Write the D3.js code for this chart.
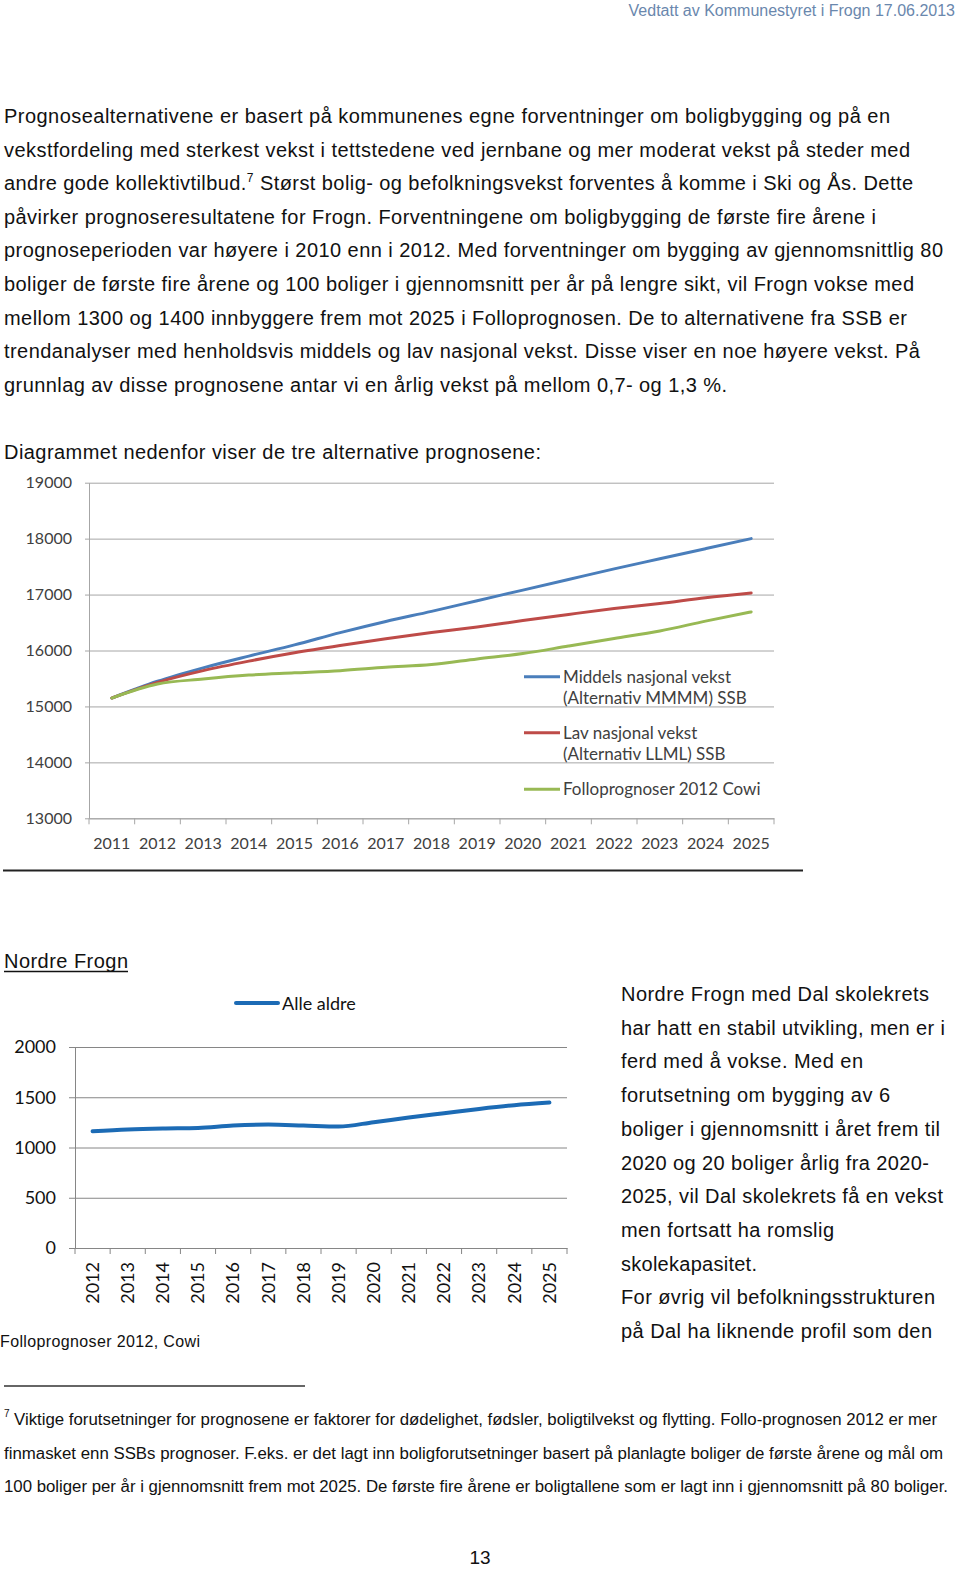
<!DOCTYPE html>
<html>
<head>
<meta charset="utf-8">
<script src="https://cdn.jsdelivr.net/npm/d3@7"></script>
<style>
  html, body { margin: 0; padding: 0; background: #fff; }
  svg { display: block; }
  .body { font-family: "Liberation Sans", Arial, sans-serif; font-size: 20px; fill: #111; }
  .chart { font-family: Lato, "Open Sans", sans-serif; fill: #404040; }
</style>
</head>
<body>
<script>
// ---------- Data ----------
const years1 = ["2011","2012","2013","2014","2015","2016","2017","2018","2019","2020","2021","2022","2023","2024","2025"];
const middels = [15150,15450,15690,15900,16100,16320,16520,16700,16890,17080,17270,17460,17640,17820,18000];
const lav     = [15150,15430,15640,15810,15960,16090,16210,16320,16420,16535,16645,16750,16840,16945,17030];
const follo   = [15150,15400,15490,15560,15600,15640,15700,15750,15850,15945,16080,16215,16350,16525,16690];
const yTicks1 = [13000,14000,15000,16000,17000,18000,19000];
const seriesNames1 = [["Middels nasjonal vekst","(Alternativ MMMM) SSB"],["Lav nasjonal vekst","(Alternativ LLML) SSB"],["Folloprognoser 2012 Cowi"]];
const seriesColors1 = ["#4a7ebb","#be4b48","#98b954"];

const years2 = ["2012","2013","2014","2015","2016","2017","2018","2019","2020","2021","2022","2023","2024","2025"];
const alleAldre = [1162,1179,1189,1195,1219,1228,1219,1209,1252,1298,1341,1384,1421,1447];
const yTicks2 = [0,500,1000,1500,2000];

const paragraph = [
  "Prognosealternativene er basert på kommunenes egne forventninger om boligbygging og på en",
  "vekstfordeling med sterkest vekst i tettstedene ved jernbane og mer moderat vekst på steder med",
  "andre gode kollektivtilbud.|7| Størst bolig- og befolkningsvekst forventes å komme i Ski og Ås. Dette",
  "påvirker prognoseresultatene for Frogn. Forventningene om boligbygging de første fire årene i",
  "prognoseperioden var høyere i 2010 enn i 2012. Med forventninger om bygging av gjennomsnittlig 80",
  "boliger de første fire årene og 100 boliger i gjennomsnitt per år på lengre sikt, vil Frogn vokse med",
  "mellom 1300 og 1400 innbyggere frem mot 2025 i Folloprognosen. De to alternativene fra SSB er",
  "trendanalyser med henholdsvis middels og lav nasjonal vekst. Disse viser en noe høyere vekst. På",
  "grunnlag av disse prognosene antar vi en årlig vekst på mellom 0,7- og 1,3 %."
];
const paragraphEnds = [890,910,913,876,943,914,907,920,727];

const sideText = [
  "Nordre Frogn med Dal skolekrets",
  "har hatt en stabil utvikling, men er i",
  "ferd med å vokse. Med en",
  "forutsetning om bygging av 6",
  "boliger i gjennomsnitt i året frem til",
  "2020 og 20 boliger årlig fra 2020-",
  "2025, vil Dal skolekrets få en vekst",
  "men fortsatt ha romslig",
  "skolekapasitet.",
  "For øvrig vil befolkningsstrukturen",
  "på Dal ha liknende profil som den"
];
const sideEnds = [929,945,863,890,940,929,943,834,757,935,932];

const footnote = [
  "Viktige forutsetninger for prognosene er faktorer for dødelighet, fødsler, boligtilvekst og flytting. Follo-prognosen 2012 er mer",
  "finmasket enn SSBs prognoser. F.eks. er det lagt inn boligforutsetninger basert på planlagte boliger de første årene og mål om",
  "100 boliger per år i gjennomsnitt frem mot 2025. De første fire årene er boligtallene som er lagt inn i gjennomsnitt på 80 boliger."
];
const footStarts = [14,4,4];
const footEnds = [937,943,948];

// ---------- Page ----------
const W = 960, H = 1569;
const svg = d3.select("body").append("svg").attr("width", W).attr("height", H);
svg.append("rect").attr("width", W).attr("height", H).attr("fill", "#fff");

// header
svg.append("text").attr("x", 955).attr("y", 16).attr("text-anchor", "end")
  .style("font-family", "'Liberation Sans', Arial, sans-serif").style("font-size", "16px")
  .attr("fill", "#6a87ad").text("Vedtatt av Kommunestyret i Frogn 17.06.2013");

// paragraph
paragraph.forEach((line, i) => {
  const t = svg.append("text").attr("class", "body").attr("x", 4).attr("y", 123 + i * 33.6)
    .attr("textLength", paragraphEnds[i] - 4).attr("lengthAdjust", "spacing");
  const parts = line.split("|");
  if (parts.length === 3) {
    t.append("tspan").text(parts[0]);
    t.append("tspan").attr("dy", -8).style("font-size", "12px").text(parts[1]);
    t.append("tspan").attr("dy", 8).text(parts[2]);
  } else {
    t.text(line);
  }
});

svg.append("text").attr("class", "body").attr("x", 4).attr("y", 459)
  .attr("textLength", 537).attr("lengthAdjust", "spacing")
  .text("Diagrammet nedenfor viser de tre alternative prognosene:");

// ---------- Chart 1 ----------
{
  const x0 = 89, x1 = 774, yTop = 482.7, yBot = 818.3;
  const x = d3.scaleBand().domain(years1).range([x0, x1]);
  const y = d3.scaleLinear().domain([13000, 19000]).range([yBot, yTop]);
  const g = svg.append("g").attr("class", "chart");

  // grid + y axis
  const ya = g.append("g").attr("transform", `translate(${x0},0)`)
    .call(d3.axisLeft(y).tickValues(yTicks1).tickSizeInner(-(x1 - x0)).tickSizeOuter(0).tickFormat(d3.format("d")));
  ya.select(".domain").attr("stroke", "#a6a6a6");
  ya.selectAll(".tick line").attr("stroke", "#a6a6a6").attr("x1", -4);
  ya.selectAll(".tick text").attr("x", -17).attr("fill", "#404040")
    .style("font-size", "16px").style("font-family", "Lato, 'Open Sans', sans-serif");

  // x axis
  const xa = g.append("g").attr("transform", `translate(0,${yBot})`)
    .call(d3.axisBottom(x).tickSize(0).tickSizeOuter(0));
  xa.select(".domain").attr("stroke", "#a6a6a6");
  xa.selectAll(".tick text").attr("y", 31).attr("dy", 0).attr("fill", "#404040")
    .style("font-size", "16px").style("font-family", "Lato, 'Open Sans', sans-serif");
  g.selectAll(".xb").data(d3.range(years1.length + 1)).join("line")
    .attr("x1", i => x0 + i * x.step()).attr("x2", i => x0 + i * x.step())
    .attr("y1", yBot).attr("y2", yBot + 6).attr("stroke", "#a6a6a6");

  const line = d3.line().x((d, i) => x(years1[i]) + x.bandwidth() / 2).y(d => y(d)).curve(d3.curveMonotoneX);
  const series = [middels, lav, follo];
  series.forEach((s, k) => {
    g.append("path").datum(s).attr("d", line).attr("fill", "none")
      .attr("stroke", seriesColors1[k]).attr("stroke-width", 3).attr("stroke-linecap", "round");
  });

  // legend
  const legY = [676.7, 732.7, 789.3];
  seriesNames1.forEach((names, k) => {
    g.append("line").attr("x1", 524).attr("x2", 560).attr("y1", legY[k]).attr("y2", legY[k])
      .attr("stroke", seriesColors1[k]).attr("stroke-width", 3);
    names.forEach((n, j) => {
      g.append("text").attr("x", 563).attr("y", legY[k] + 6 + j * 21.5)
        .style("font-size", "17px").attr("fill", "#404040").text(n);
    });
  });
}

// separator
svg.append("line").attr("x1", 3).attr("x2", 803).attr("y1", 870.5).attr("y2", 870.5)
  .attr("stroke", "#222").attr("stroke-width", 2);

// Nordre Frogn title
svg.append("text").attr("class", "body").attr("x", 4).attr("y", 968)
  .attr("textLength", 124).attr("lengthAdjust", "spacing").text("Nordre Frogn");
svg.append("line").attr("x1", 4).attr("x2", 128).attr("y1", 971.5).attr("y2", 971.5)
  .attr("stroke", "#111").attr("stroke-width", 1.3);

// ---------- Chart 2 ----------
{
  const x0 = 75, x1 = 567, yTop = 1047, yBot = 1248;
  const x = d3.scaleBand().domain(years2).range([x0, x1]);
  const y = d3.scaleLinear().domain([0, 2000]).range([yBot, yTop]);
  const g = svg.append("g").attr("class", "chart");

  const ya = g.append("g").attr("transform", `translate(${x0},0)`)
    .call(d3.axisLeft(y).tickValues(yTicks2).tickSizeInner(-(x1 - x0)).tickSizeOuter(0).tickFormat(d3.format("d")));
  ya.select(".domain").attr("stroke", "#868686");
  ya.selectAll(".tick line").attr("stroke", "#868686").attr("x1", -6);
  ya.selectAll(".tick text").attr("x", -19).attr("fill", "#111")
    .style("font-size", "18px").style("font-family", "Lato, 'Open Sans', sans-serif");

  const xa = g.append("g").attr("transform", `translate(0,${yBot})`)
    .call(d3.axisBottom(x).tickSize(0).tickSizeOuter(0));
  xa.select(".domain").attr("stroke", "#868686");
  xa.selectAll(".tick text")
    .attr("transform", "rotate(-90)").attr("text-anchor", "end")
    .attr("x", -14).attr("y", 0).attr("dy", "0.35em").attr("fill", "#111")
    .style("font-size", "18px").style("font-family", "Lato, 'Open Sans', sans-serif");
  g.selectAll(".xb").data(d3.range(years2.length + 1)).join("line")
    .attr("x1", i => x0 + i * x.step()).attr("x2", i => x0 + i * x.step())
    .attr("y1", yBot).attr("y2", yBot + 6).attr("stroke", "#868686");

  const line = d3.line().x((d, i) => x(years2[i]) + x.bandwidth() / 2).y(d => y(d)).curve(d3.curveMonotoneX);
  g.append("path").datum(alleAldre).attr("d", line).attr("fill", "none")
    .attr("stroke", "#1c6bb5").attr("stroke-width", 4).attr("stroke-linecap", "round");

  g.append("line").attr("x1", 236).attr("x2", 278).attr("y1", 1003).attr("y2", 1003)
    .attr("stroke", "#1c6bb5").attr("stroke-width", 4).attr("stroke-linecap", "round");
  g.append("text").attr("x", 282).attr("y", 1010).style("font-size", "18px").attr("fill", "#111")
    .text("Alle aldre");
}

svg.append("text").attr("x", 0).attr("y", 1347)
  .style("font-family", "'Liberation Sans', Arial, sans-serif").style("font-size", "16px").attr("fill", "#111")
  .attr("textLength", 200).attr("lengthAdjust", "spacing")
  .text("Folloprognoser 2012, Cowi");

// side text
sideText.forEach((line, i) => {
  svg.append("text").attr("class", "body").attr("x", 621).attr("y", 1001 + i * 33.7)
    .attr("textLength", sideEnds[i] - 621).attr("lengthAdjust", "spacing").text(line);
});

// footnote
svg.append("line").attr("x1", 4).attr("x2", 305).attr("y1", 1386).attr("y2", 1386)
  .attr("stroke", "#333").attr("stroke-width", 1.3);
svg.append("text").attr("x", 4).attr("y", 1417)
  .style("font-family", "'Liberation Sans', Arial, sans-serif").style("font-size", "10px").attr("fill", "#111").text("7");
footnote.forEach((line, i) => {
  svg.append("text").attr("x", footStarts[i]).attr("y", 1425 + i * 33.5)
    .style("font-family", "'Liberation Sans Narrow', 'Liberation Sans', Arial, sans-serif")
    .style("font-size", "16px").attr("fill", "#111")
    .attr("textLength", footEnds[i] - footStarts[i]).attr("lengthAdjust", "spacingAndGlyphs")
    .text(line);
});

// page number
svg.append("text").attr("x", 480).attr("y", 1564).attr("text-anchor", "middle")
  .style("font-family", "'Liberation Sans', Arial, sans-serif").style("font-size", "19px").attr("fill", "#111")
  .text("13");
</script>
</body>
</html>
